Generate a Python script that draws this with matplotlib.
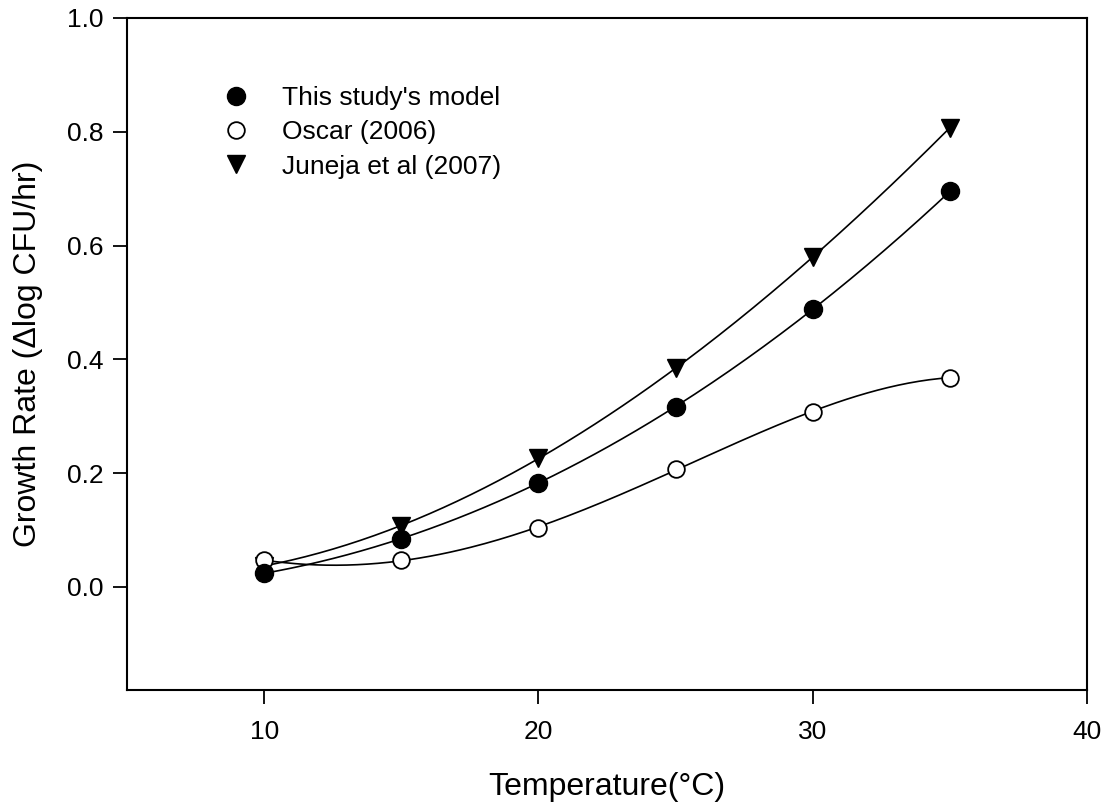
import numpy as np
import matplotlib
matplotlib.use("Agg")
import matplotlib.pyplot as plt
from matplotlib.lines import Line2D

plt.rcParams["font.family"] = ["Liberation Sans", "DejaVu Sans"]

temperature = [10, 15, 20, 25, 30, 35]
this_study = [0.024, 0.085, 0.183, 0.317, 0.488, 0.695]
oscar = [0.047, 0.047, 0.104, 0.207, 0.308, 0.368]
juneja = [0.037, 0.108, 0.226, 0.384, 0.580, 0.807]

labels = ["This study's model", "Oscar (2006)", "Juneja et al (2007)"]

fig = plt.figure(figsize=(11.09, 8.07), dpi=100)
ax = fig.add_axes([0.1145, 0.145, 0.8657, 0.8328])

# polynomial regression lines through each series
xs = np.linspace(min(temperature), max(temperature), 200)
for series, deg in ((this_study, 3), (oscar, 4), (juneja, 3)):
    coef = np.polyfit(temperature, series, deg)
    ax.plot(xs, np.polyval(coef, xs), color="black", lw=1.2, zorder=2)

ax.plot(temperature, juneja, linestyle="none", marker="v", ms=13,
        mfc="black", mec="black", zorder=3)
ax.plot(temperature, oscar, linestyle="none", marker="o", ms=12,
        mfc="white", mec="black", mew=1.3, zorder=4)
ax.plot(temperature, this_study, linestyle="none", marker="o", ms=13,
        mfc="black", mec="black", zorder=5)

ax.set_xlim(5, 40)
ax.set_ylim(-0.181, 1.0)
ax.set_xticks([10, 20, 30, 40])
ax.set_yticks([0.0, 0.2, 0.4, 0.6, 0.8, 1.0])
ax.set_yticklabels(["0.0", "0.2", "0.4", "0.6", "0.8", "1.0"])
ax.tick_params(direction="out", length=10, width=1.3, labelsize=19)
ax.tick_params(axis="x", pad=11.5)
ax.tick_params(axis="y", pad=7)
for s in ax.spines.values():
    s.set_linewidth(1.5)

ax.set_xlabel("Temperature(°C)", fontsize=23, labelpad=20)
ax.set_ylabel("Growth Rate (\u0394log CFU/hr)", fontsize=23, labelpad=17)

handles = [
    Line2D([], [], linestyle="none", marker="o", ms=13, mfc="black", mec="black"),
    Line2D([], [], linestyle="none", marker="o", ms=12, mfc="white", mec="black", mew=1.3),
    Line2D([], [], linestyle="none", marker="v", ms=13, mfc="black", mec="black"),
]
ax.legend(handles, labels, loc="upper left", bbox_to_anchor=(0.1, 0.898),
          frameon=False, fontsize=19, handlelength=1.0, handletextpad=1.25,
          labelspacing=0.38, borderaxespad=0, borderpad=0, numpoints=1)

fig.savefig("out.png", dpi=100)
